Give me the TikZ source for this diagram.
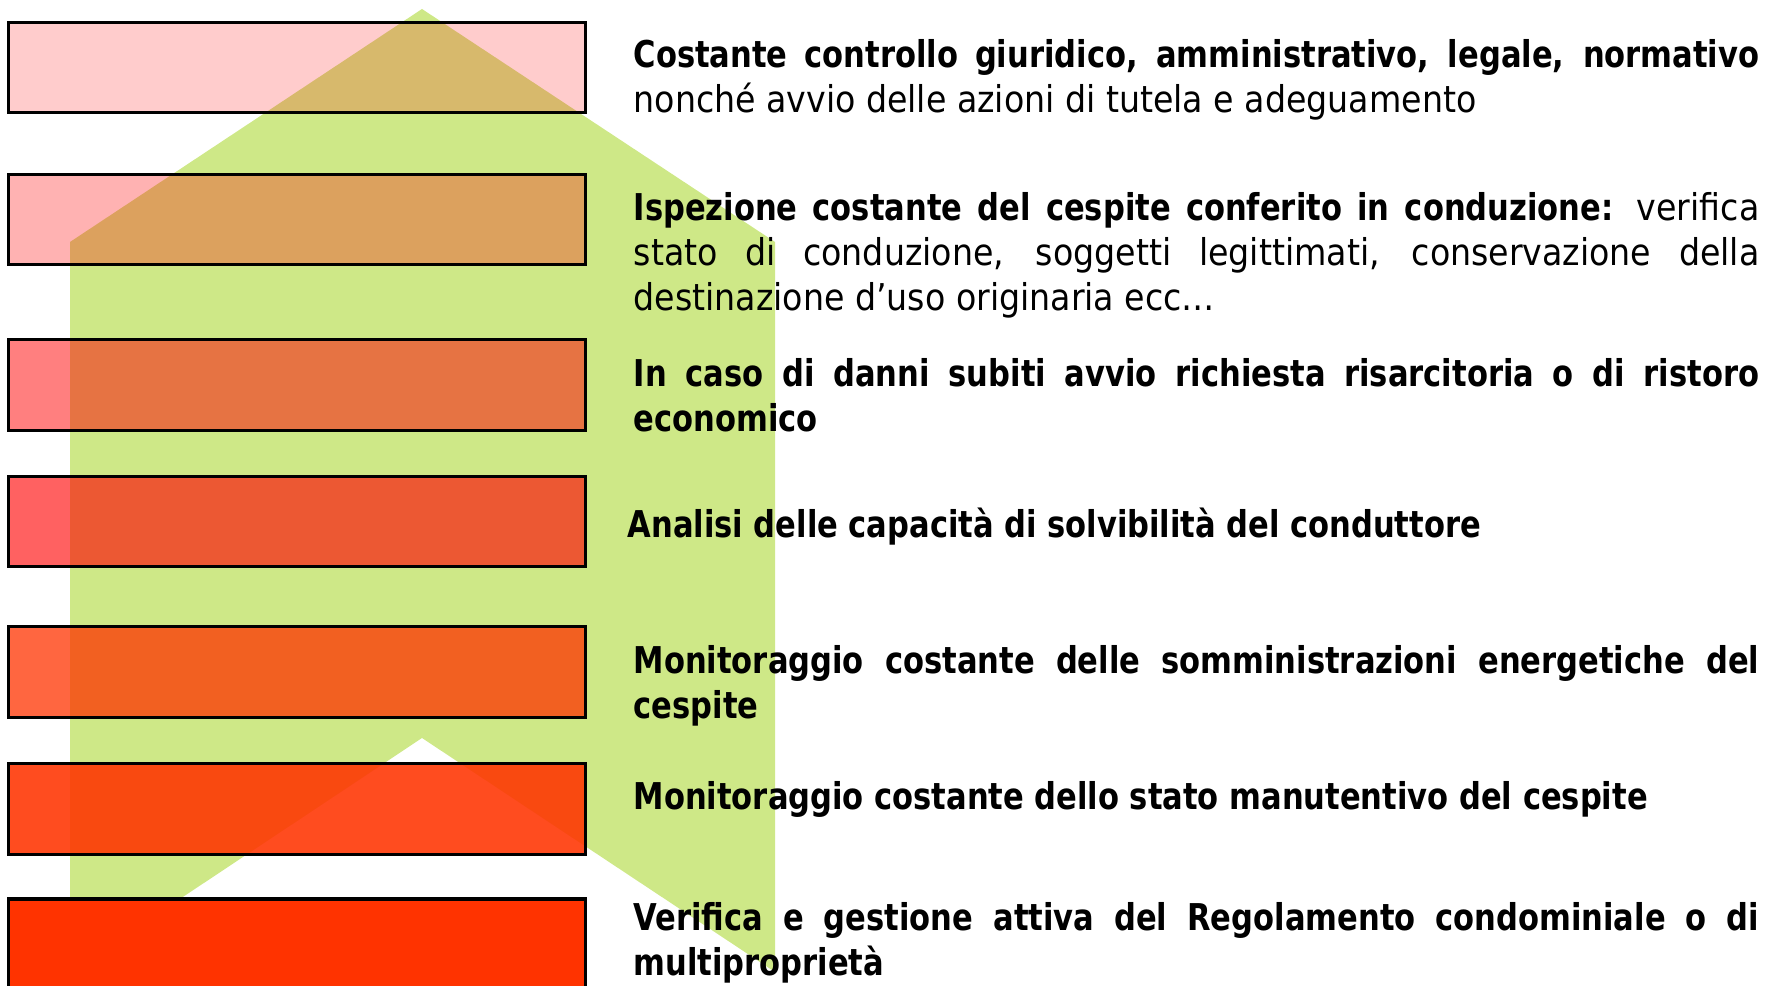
\documentclass[tikz,border=0pt]{standalone}
\usepackage{fontspec}
\setmainfont{DejaVu Sans Condensed}[BoldFeatures={FakeStretch=0.92}]
\usetikzlibrary{positioning}

\definecolor{chevgreen}{RGB}{206,232,135}
\definecolor{boxred}{RGB}{255,0,0}
\definecolor{boxorange}{RGB}{255,51,0}

\begin{document}
\begin{tikzpicture}[x=0.01cm,y=-0.01cm,
    band/.style={draw=black,line width=0.9pt,minimum width=5.76cm,minimum height=0.905cm,inner sep=0pt},
    note/.style={anchor=base west,text width=11.25cm,align=justify,inner sep=0pt,
                 font=\fontsize{10.5}{12.66}\selectfont}]

  \useasboundingbox (0,0) rectangle (1766,986);

  % green chevron behind the bands
  \fill[chevgreen] (422,9) -- (775,242) -- (775,972) -- (422,738)
                   -- (70,972) -- (70,242) -- cycle;

  \node[band,fill=boxred,fill opacity=0.2]     (b1) at (297,67.5) {};
  \node[band,fill=boxred,fill opacity=0.3]     (b2) at (297,219.5) {};
  \node[band,fill=boxred,fill opacity=0.5]     (b3) at (297,385) {};
  \node[band,fill=boxred,fill opacity=0.62]    (b4) at (297,521.5) {};
  \node[band,fill=boxorange,fill opacity=0.75] (b5) at (297,672) {};
  \node[band,fill=boxorange,fill opacity=0.88] (b6) at (297,809) {};
  \node[band,fill=boxorange,minimum height=1.2cm] (b7) at (297,959) {};

  \node[note] (t1) at (633,68)
    {\textbf{Costante controllo giuridico, amministrativo, legale, normativo}\linebreak
     nonché avvio delle azioni di tutela e adeguamento};
  \node[note] (t2) at (633,221)
    {\textbf{Ispezione costante del cespite conferito in conduzione:} verifica\linebreak
     stato di conduzione, soggetti legittimati, conservazione della\linebreak
     destinazione d’uso originaria ecc…};
  \node[note] (t3) at (633,387)
    {\textbf{In caso di danni subiti avvio richiesta risarcitoria o di ristoro\linebreak
     economico}};
  \node[note] (t4) at (627,538)
    {\textbf{Analisi delle capacità di solvibilità del conduttore}};
  \node[note] (t5) at (633,674)
    {\textbf{Monitoraggio costante delle somministrazioni energetiche del\linebreak
     cespite}};
  \node[note] (t6) at (633,810)
    {\textbf{Monitoraggio costante dello stato manutentivo del cespite}};
  \node[note] (t7) at (633,931)
    {\textbf{Verifica e gestione attiva del Regolamento condominiale o di\linebreak
     multiproprietà}};

\end{tikzpicture}
\end{document}
